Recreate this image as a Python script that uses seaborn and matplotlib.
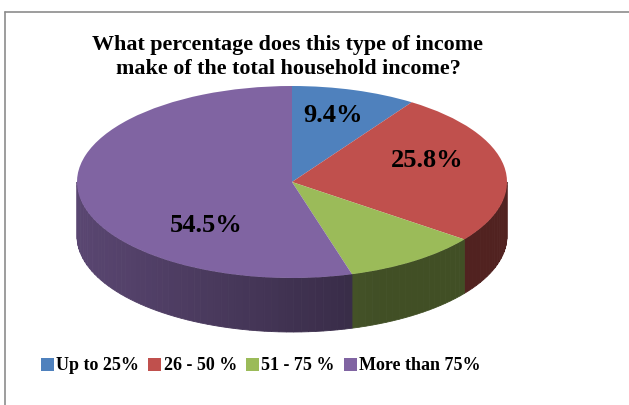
import numpy as np
import matplotlib
matplotlib.use("Agg")
import matplotlib.pyplot as plt
from matplotlib.lines import Line2D
from matplotlib.colors import to_rgb
import seaborn as sns

# Data
categories = ["Up to 25%", "26 - 50 %", "51 - 75 %", "More than 75%"]
shares = [9.4, 25.8, 10.3, 54.5]
pct_labels = ["9.4%", "25.8%", "", "54.5%"]
title = "What percentage does this type of income\nmake of the total household income?"

colors = ["#4f81bd", "#c0504d", "#9bbb59", "#8064a2"]

sns.set_theme(style="white")
plt.rcParams["font.family"] = ["Liberation Serif", "DejaVu Serif"]
plt.rcParams["font.weight"] = "bold"
plt.rcParams["text.color"] = "black"

fig = plt.figure(figsize=(6.29, 4.05), dpi=100)
fig.patch.set_facecolor("white")

# chart area border (only top and left visible in the crop)
fig.add_artist(Line2D([5 / 629, 5 / 629], [0, 1 - 12 / 405], color="#8c8c8c", lw=1.2))
fig.add_artist(Line2D([5 / 629, 1], [1 - 12 / 405, 1 - 12 / 405], color="#8c8c8c", lw=1.2))

# pie geometry in pixels
cx, cy, rx, ry, depth_px = 292, 182, 215, 96, 54
d = depth_px / ry
ax = fig.add_axes([(cx - 1.1 * rx) / 629, (405 - (cy - 1.1 * ry) - (2.2 + d) * ry) / 405,
                   2.2 * rx / 629, (2.2 + d) * ry / 405])

wedges, texts = ax.pie(shares, colors=colors, startangle=90, counterclock=False,
                       labels=pct_labels, labeldistance=0.6,
                       wedgeprops=dict(linewidth=0, zorder=3),
                       textprops=dict(fontsize=19, fontweight="bold", color="black", zorder=5))
ax.set_aspect("auto")
ax.set_xlim(-1.1, 1.1)
ax.set_ylim(-1.1 - d, 1.1)
ax.axis("off")

# side walls of the 3D pie (front half only)
cum = np.concatenate([[0], np.cumsum(shares) / np.sum(shares)])
for i, col in enumerate(colors):
    a = 90 - 360 * cum[i + 1]
    b = 90 - 360 * cum[i]
    for shift in (0, 360, -360):
        lo, hi = max(a + shift, -180), min(b + shift, 0)
        if lo >= hi:
            continue
        edges = np.linspace(lo, hi, int(np.ceil((hi - lo) / 2)) + 1)
        base = np.array(to_rgb(col))
        for t0, t1 in zip(edges[:-1], edges[1:]):
            t = np.radians(np.linspace(t0, t1, 6))
            x = np.cos(t)
            y = np.sin(t)
            tm = np.radians((t0 + t1) / 2)
            f = max(0.5 + 0.2 * (-np.cos(tm)), 0.42)
            c = np.clip(base * f, 0, 1)
            ax.fill(np.r_[x, x[::-1]], np.r_[y, (y - d)[::-1]],
                    facecolor=c, edgecolor=c, lw=0.6, zorder=2)

# label positions (unit-circle coordinates)
label_xy = [(0.19, 0.69), (0.63, 0.22), (0, 0), (-0.40, -0.45)]
for txt, (lx, ly) in zip(texts, label_xy):
    txt.set_position((lx, ly))
    txt.set_ha("center")
    txt.set_va("center")

fig.text(288 / 629, 1 - 57 / 405, title, ha="center", va="center", color="black",
         fontsize=15.8, fontweight="bold", linespacing=1.25)

fig.legend(wedges, categories, loc="center", bbox_to_anchor=(261 / 629, 1 - 366 / 405),
           ncol=4, frameon=False, prop=dict(size=13, weight="bold"), labelcolor="black",
           handlelength=0.7, handleheight=0.7, handletextpad=0.15, columnspacing=0.5)

fig.savefig("out.png", dpi=100)
